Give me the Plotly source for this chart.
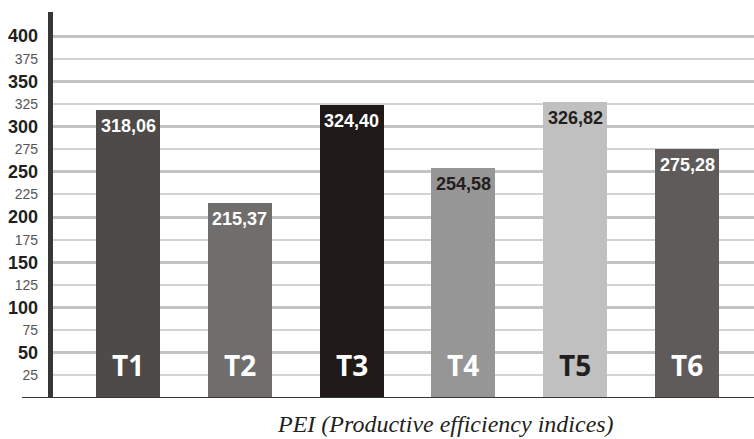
import plotly.graph_objects as go

# Productive efficiency index per treatment
treatments = ["T1", "T2", "T3", "T4", "T5", "T6"]
pei_values = [318.06, 215.37, 324.40, 254.58, 326.82, 275.28]
bar_colors = ["#4d4a47", "#6f6e6c", "#1f1a17", "#979696", "#c0c0c0", "#5f5b5a"]
value_label_colors = ["#ffffff", "#ffffff", "#ffffff", "#231f20", "#231f20", "#ffffff"]
name_label_colors = ["#ffffff", "#ffffff", "#ffffff", "#ffffff", "#231f20", "#ffffff"]

major_ticks = [50, 100, 150, 200, 250, 300, 350, 400]
minor_ticks = [25, 75, 125, 175, 225, 275, 325, 375]
x_title = "PEI (Productive efficiency indices)"

W, H = 754, 439
ML, MR, MT, MB = 53, 0, 0, 41
sans = "Liberation Sans, Arial, sans-serif"

x_idx = list(range(len(treatments)))

fig = go.Figure()
fig.add_trace(go.Bar(
    x=x_idx, y=pei_values, width=0.572,
    marker=dict(color=bar_colors, line=dict(width=0)),
    hoverinfo="skip", showlegend=False,
))
# invisible trace that anchors the second y axis (minor labels)
fig.add_trace(go.Scatter(x=[x_idx[0]], y=[pei_values[0]], yaxis="y2",
                         mode="markers", marker=dict(opacity=0),
                         hoverinfo="skip", showlegend=False))

annotations = []
for i, (v, vc, nc, name) in enumerate(zip(pei_values, value_label_colors,
                                           name_label_colors, treatments)):
    annotations.append(dict(
        x=i, y=v, xref="x", yref="y", text=f"{v:.2f}".replace(".", ","),
        showarrow=False, yanchor="middle", yshift=-16,
        font=dict(family=sans, size=18, color=vc, weight="bold"),
    ))
    annotations.append(dict(
        x=i, y=0, xref="x", yref="y", text=name,
        showarrow=False, yanchor="middle", yshift=33,
        font=dict(family="Open Sans, Arial, sans-serif", size=28, color=nc, weight="bold"),
    ))

plot_w = W - ML - MR
annotations.append(dict(
    x=(445 - ML) / plot_w, y=0, xref="paper", yref="paper",
    yanchor="middle", yshift=-26, text=f"<i>{x_title}</i>", showarrow=False,
    font=dict(family="Liberation Serif, Times New Roman, serif", size=24, color="#231f20"),
))

axis_color = "#3a3634"
shapes = [
    # vertical axis bar
    dict(type="rect", xref="paper", yref="y", xsizemode="pixel", ysizemode="pixel",
         xanchor=0, x0=-5, x1=0, yanchor=0, y0=-28, y1=386,
         fillcolor=axis_color, line=dict(width=0), layer="above"),
    # horizontal axis bar
    dict(type="rect", xref="paper", yref="y", xsizemode="pixel", ysizemode="pixel",
         xanchor=0, x0=-31, x1=plot_w, yanchor=0, y0=-4, y1=1,
         fillcolor=axis_color, line=dict(width=0), layer="above"),
]

fig.update_layout(
    width=W, height=H,
    margin=dict(l=ML, r=MR, t=MT, b=MB, pad=0),
    paper_bgcolor="white", plot_bgcolor="white",
    bargap=0,
    xaxis=dict(range=[-0.671, 5.599], showticklabels=False, showgrid=False,
               zeroline=False, showline=False, ticks=""),
    yaxis=dict(range=[0, 440], tickmode="array", tickvals=major_ticks,
               ticktext=[str(t) for t in major_ticks],
               tickfont=dict(family=sans, size=18, color="#231f20", weight="bold"),
               showgrid=True, gridcolor="#c4c4c4", gridwidth=2.5,
               minor=dict(tickmode="array", tickvals=minor_ticks, showgrid=True,
                          gridcolor="#d3d3d3", gridwidth=1.5, ticks=""),
               zeroline=False, showline=False, ticks="", ticklabelstandoff=14),
    yaxis2=dict(range=[0, 440], overlaying="y", side="left", tickmode="array",
                tickvals=minor_ticks, ticktext=[str(t) for t in minor_ticks],
                tickfont=dict(family=sans, size=14, color="#555555"),
                showgrid=False, zeroline=False, showline=False, ticks="",
                ticklabelstandoff=14),
    annotations=annotations,
    shapes=shapes,
)

fig.write_html("out.html")
